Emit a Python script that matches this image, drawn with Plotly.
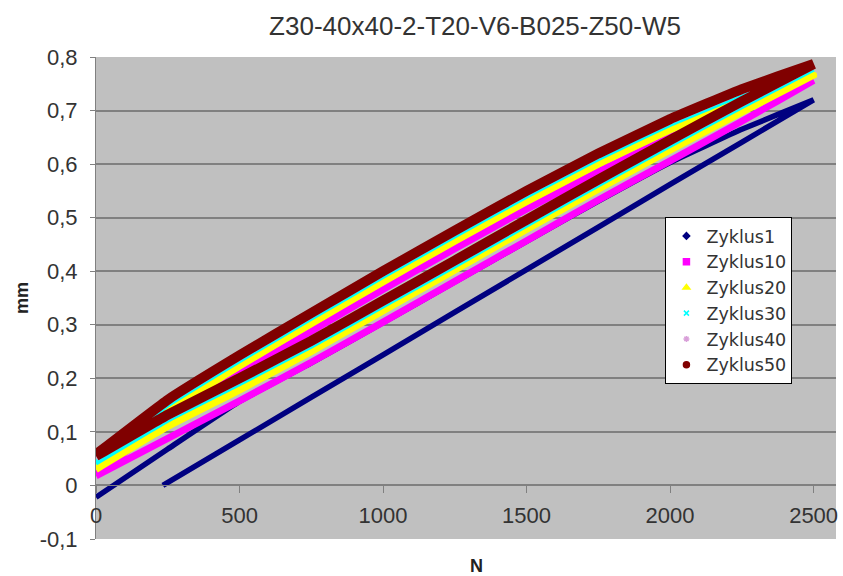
import plotly.graph_objects as go

# ---------------- data ----------------
N_GRID = [0, 250, 500, 750, 1000, 1250, 1500, 1750, 2000, 2250, 2500]

z1_load_N = [233, 500, 1000, 1500, 2000, 2500]
z1_load = [0.0, 0.085, 0.244, 0.403, 0.562, 0.72]
z1_unload = [-0.022, 0.068, 0.157, 0.229, 0.304, 0.38, 0.456, 0.531, 0.603, 0.665, 0.72]

z10_upper = [0.02, 0.123, 0.208, 0.288, 0.366, 0.442, 0.516, 0.586, 0.65, 0.706, 0.756]
z10_lower = [0.018, 0.088, 0.158, 0.23, 0.305, 0.381, 0.457, 0.533, 0.606, 0.68, 0.756]

z20_upper = [0.033, 0.138, 0.223, 0.302, 0.38, 0.456, 0.53, 0.6, 0.664, 0.72, 0.766]
z20_lower = [0.03, 0.11, 0.178, 0.25, 0.326, 0.402, 0.478, 0.553, 0.626, 0.697, 0.766]

z30_upper = [0.043, 0.149, 0.232, 0.311, 0.389, 0.465, 0.539, 0.609, 0.673, 0.729, 0.776]
z30_lower = [0.041, 0.121, 0.189, 0.259, 0.334, 0.409, 0.485, 0.56, 0.634, 0.706, 0.776]

z40_upper = [0.056, 0.158, 0.241, 0.32, 0.398, 0.474, 0.548, 0.618, 0.682, 0.738, 0.785]
z40_lower = [0.053, 0.13, 0.198, 0.268, 0.343, 0.418, 0.494, 0.569, 0.643, 0.715, 0.785]

z50_upper = [0.058, 0.16, 0.243, 0.322, 0.4, 0.476, 0.55, 0.62, 0.684, 0.74, 0.787]
z50_lower = [0.055, 0.132, 0.2, 0.27, 0.345, 0.42, 0.496, 0.571, 0.645, 0.717, 0.787]

series_names = ["Zyklus1", "Zyklus10", "Zyklus20", "Zyklus30", "Zyklus40", "Zyklus50"]

y_tickvals = [-0.1, 0, 0.1, 0.2, 0.3, 0.4, 0.5, 0.6, 0.7, 0.8]
y_ticktext = ["-0,1", "0", "0,1", "0,2", "0,3", "0,4", "0,5", "0,6", "0,7", "0,8"]
x_tickvals = [0, 500, 1000, 1500, 2000, 2500]
x_ticktext = ["0", "500", "1000", "1500", "2000", "2500"]

title_text = "Z30-40x40-2-T20-V6-B025-Z50-W5"

# ---------------- styles ----------------
colors = ["#000080", "#FF00FF", "#FFFF00", "#00FFFF", "#D9A0D9", "#800000"]
widths = [5.5, 7, 7, 4, 8, 10]
symbols = ["diamond", "square", "triangle-up", "x-thin", "asterisk", "circle"]
msizes = [5, 6, 6, 5, 5, 6]

fig = go.Figure()

loops = [
    (list(z1_load_N) + N_GRID[::-1], list(z1_load) + z1_unload[::-1]),
    (N_GRID + N_GRID[::-1], z10_lower + z10_upper[::-1]),
    (N_GRID + N_GRID[::-1], z20_lower + z20_upper[::-1]),
    (N_GRID + N_GRID[::-1], z30_lower + z30_upper[::-1]),
    (N_GRID + N_GRID[::-1], z40_lower + z40_upper[::-1]),
    (N_GRID + N_GRID[::-1], z50_lower + z50_upper[::-1]),
]

for i, (xs, ys) in enumerate(loops):
    fig.add_trace(go.Scatter(
        x=xs, y=ys, mode="lines",
        line=dict(color=colors[i], width=widths[i], shape="spline", smoothing=0.3),
        showlegend=False, hoverinfo="skip",
    ))

for i, name in enumerate(series_names):
    fig.add_trace(go.Scatter(
        x=[None], y=[None], mode="markers", name=name,
        marker=dict(color=colors[i], symbol=symbols[i], size=msizes[i],
                    line=dict(color=colors[i], width=1.5)),
    ))

font_family = "Liberation Sans, Arial, sans-serif"

fig.update_layout(
    width=843, height=576,
    margin=dict(l=96, r=5, t=57, b=37),
    paper_bgcolor="white",
    plot_bgcolor="#C0C0C0",
    font=dict(family=font_family, color="#333333", size=20),
    title=dict(text=title_text, x=0.5635, xanchor="center", y=0.955, yanchor="middle",
               font=dict(size=26, color="#333333")),
    showlegend=True,
    legend=dict(
        x=0.7695, y=0.668, xanchor="left", yanchor="top",
        bgcolor="white", bordercolor="black", borderwidth=1,
        font=dict(size=17.5, color="#333333", family="DejaVu Sans, sans-serif"),
        itemwidth=30, tracegroupgap=0,
    ),
    xaxis=dict(
        range=[0, 2578], tickvals=x_tickvals, ticktext=x_ticktext,
        showgrid=False, zeroline=False,
        anchor="free", position=0.1111,
        showline=True, linecolor="#808080", linewidth=1,
        ticks="outside", ticklen=7, tickcolor="#808080",
        tickfont=dict(size=22, color="#333333"),
        ticklabelstandoff=3,
    ),
    yaxis=dict(
        range=[-0.1, 0.8], tickvals=y_tickvals, ticktext=y_ticktext,
        showgrid=True, gridcolor="#808080", gridwidth=1.5, zeroline=False,
        showline=True, linecolor="#808080", linewidth=1,
        ticks="outside", ticklen=5, tickcolor="#808080",
        tickfont=dict(size=22, color="#333333"),
        ticklabelstandoff=8,
    ),
    annotations=[
        dict(text="<b>mm</b>", xref="paper", yref="paper", x=-0.1, y=0.5,
             xanchor="center", yanchor="middle", textangle=-90, showarrow=False,
             font=dict(size=18, color="#222222")),
        dict(text="<b>N</b>", xref="paper", yref="paper", x=0.514, y=-0.057,
             xanchor="center", yanchor="middle", showarrow=False,
             font=dict(size=18, color="#222222")),
    ],
)

fig.write_html("out.html")
